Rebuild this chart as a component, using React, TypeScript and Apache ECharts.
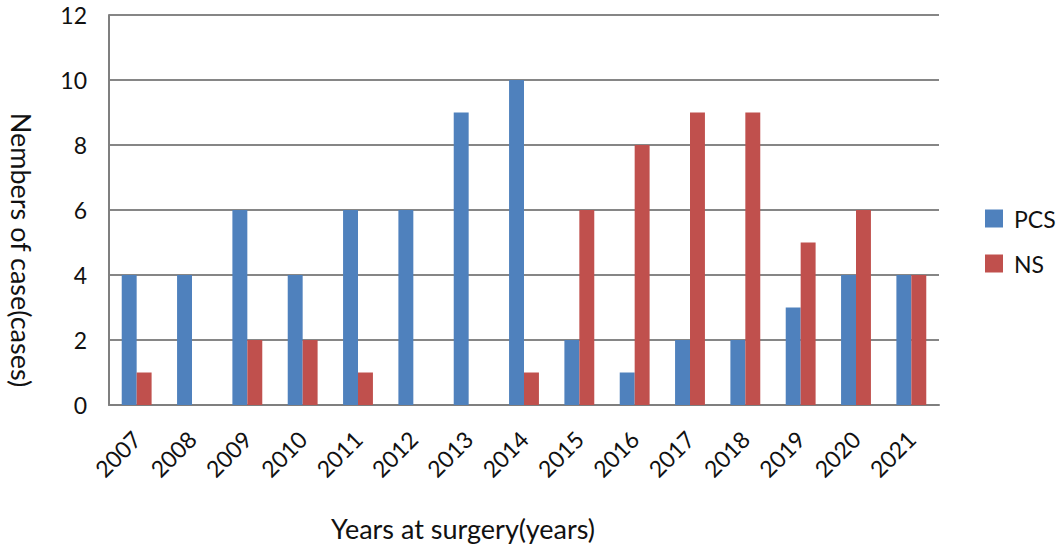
import React, { useEffect, useRef } from "react";
import * as echarts from "echarts";

const years = ["2007","2008","2009","2010","2011","2012","2013","2014","2015","2016","2017","2018","2019","2020","2021"];
const pcs = [4, 4, 6, 4, 6, 6, 9, 10, 2, 1, 2, 2, 3, 4, 4];
const ns = [1, 0, 2, 2, 1, 0, 0, 1, 6, 8, 9, 9, 5, 6, 4];

const FONT = "Lato, 'Open Sans', sans-serif";

export default function App() {
  const ref = useRef<HTMLDivElement>(null);
  useEffect(() => {
    if (!ref.current) return;
    const chart = echarts.init(ref.current, undefined, { renderer: "svg" });
    chart.setOption({
      animation: false,
      backgroundColor: "#ffffff",
      textStyle: { fontFamily: FONT },
      grid: { left: 107, right: 124, top: 15, bottom: 142, containLabel: false },
      legend: {
        orient: "vertical",
        left: 980,
        top: 202,
        itemWidth: 18,
        itemHeight: 18,
        itemGap: 22,
        icon: "rect",
        textStyle: { fontSize: 23, color: "#111", fontFamily: FONT, padding: [0, 0, 0, 6] },
        data: ["PCS", "NS"],
      },
      xAxis: {
        type: "category",
        data: years,
        name: "Years at surgery(years)",
        nameLocation: "middle",
        nameGap: 110,
        nameTextStyle: { fontSize: 27, color: "#111", fontFamily: FONT, padding: [0, 122, 0, 0] },
        axisLine: { lineStyle: { color: "#7f7f7f", width: 2 } },
        axisTick: { show: false },
        axisLabel: { rotate: 45, fontSize: 23, color: "#111", margin: 30, fontFamily: FONT },
      },
      yAxis: {
        type: "value",
        min: 0,
        max: 12,
        interval: 2,
        name: "Nembers of case(cases)",
        nameLocation: "middle",
        nameGap: 74,
        nameRotate: -90,
        nameTextStyle: { fontSize: 27, color: "#111", fontFamily: FONT, padding: [0, 0, 0, 80] },
        axisLine: { show: true, lineStyle: { color: "#7f7f7f", width: 2 } },
        axisTick: { show: false },
        axisLabel: { fontSize: 23, color: "#111", margin: 22, fontFamily: FONT },
        splitLine: { lineStyle: { color: "#868686", width: 2 } },
      },
      series: [
        {
          name: "PCS",
          type: "bar",
          data: pcs,
          barGap: "0%",
          barCategoryGap: "46%",
          itemStyle: { color: "#4F81BD" },
        },
        {
          name: "NS",
          type: "bar",
          data: ns,
          barGap: "0%",
          barCategoryGap: "46%",
          itemStyle: { color: "#C0504D" },
        },
      ],
    });
    return () => chart.dispose();
  }, []);
  return (
    <div
      ref={ref}
      style={{ position: "absolute", left: 0, top: 0, width: 1063, height: 547 }}
    />
  );
}
